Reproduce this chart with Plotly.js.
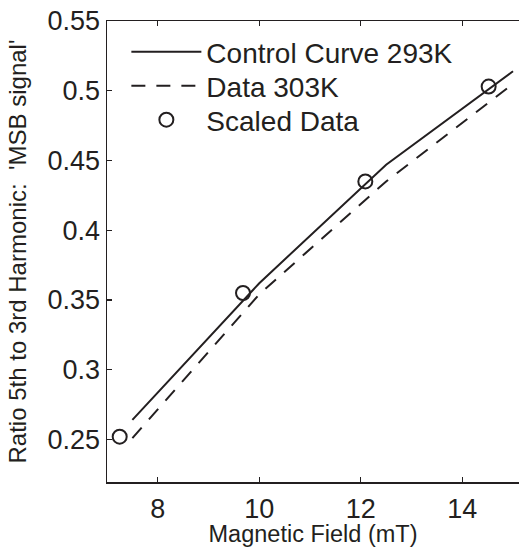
<!DOCTYPE html>
<html>
<head>
<meta charset="utf-8">
<script src="https://cdn.plot.ly/plotly-3.0.1.min.js"></script>
<style>html,body{margin:0;padding:0;background:#fff;}#chart{width:519px;height:547px;}</style>
</head>
<body>
<div id="chart"></div>
<script>
// Data
const ctrlField = [7.5, 10, 12.5, 15];
const ctrlRatio = [0.264, 0.362, 0.447, 0.514];
const dataField = [7.5, 10, 12.5, 15];
const dataRatio = [0.251, 0.354, 0.435, 0.505];
const scaledField = [7.25, 9.68, 12.09, 14.52];
const scaledRatio = [0.252, 0.355, 0.435, 0.503];
const seriesNames = ['Control Curve 293K', 'Data 303K', 'Scaled Data'];
const xTicks = [8, 10, 12, 14];
const yTicks = [0.25, 0.3, 0.35, 0.4, 0.45, 0.5, 0.55];

const FONT = 'Liberation Sans, Arial, Helvetica, sans-serif';
const INK = '#231f20';

const traces = [
  {x: ctrlField, y: ctrlRatio, name: seriesNames[0], mode: 'lines', type: 'scatter',
   legend: 'legend', line: {color: INK, width: 2}},
  {x: dataField, y: dataRatio, name: seriesNames[1], mode: 'lines', type: 'scatter',
   legend: 'legend2', line: {color: INK, width: 2, dash: '14px,11px'}},
  {x: scaledField, y: scaledRatio, name: seriesNames[2], mode: 'markers', type: 'scatter',
   legend: 'legend3', marker: {symbol: 'circle-open', size: 14, color: INK, line: {width: 2, color: INK}}}
];

function legendAt(yTop) {
  return {x: 0.047, y: yTop, xanchor: 'left', yanchor: 'top', bgcolor: 'rgba(0,0,0,0)',
          font: {size: 28, family: FONT, color: INK}, itemwidth: 70};
}

const layout = {
  width: 519, height: 547,
  margin: {l: 107, r: 0, t: 21, b: 65},
  paper_bgcolor: '#fff', plot_bgcolor: '#fff',
  font: {family: FONT, color: INK},
  showlegend: true,
  legend: legendAt(0.987),
  legend2: legendAt(0.9132),
  legend3: legendAt(0.8395),
  xaxis: {range: [7, 15.118], tickvals: xTicks, ticktext: xTicks.map(String),
          ticks: 'inside', ticklen: 5, tickwidth: 1.2, tickcolor: INK,
          showline: true, linecolor: INK, linewidth: 1.5, mirror: 'ticks',
          showgrid: false, zeroline: false, ticklabelstandoff: 2,
          tickfont: {size: 27, family: FONT, color: INK},
          title: {text: 'Magnetic Field (mT)', font: {size: 23.5, family: FONT, color: INK}, standoff: 9}},
  yaxis: {range: [0.2195, 0.55], tickvals: yTicks, ticktext: yTicks.map(String),
          ticks: 'inside', ticklen: 5, tickwidth: 1.2, tickcolor: INK,
          showline: true, linecolor: INK, linewidth: 1.5, mirror: false,
          showgrid: false, zeroline: false,
          tickfont: {size: 27, family: FONT, color: INK},
          title: {text: "Ratio 5th to 3rd Harmonic:  'MSB signal'", font: {size: 24, family: FONT, color: INK}, standoff: 14}}
};

Plotly.newPlot('chart', traces, layout, {displayModeBar: false, staticPlot: true});
</script>
</body>
</html>
